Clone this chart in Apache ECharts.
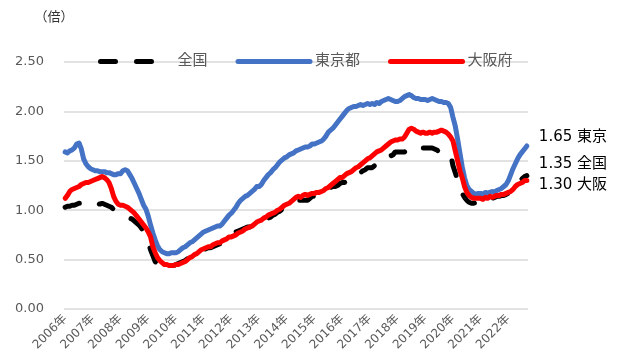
<!DOCTYPE html>
<html>
<head>
<meta charset="utf-8">
<script src="https://cdn.jsdelivr.net/npm/echarts@6/dist/echarts.min.js"></script>
<style>html,body{margin:0;padding:0;background:#fff}#c{width:624px;height:364px}</style>
</head>
<body>
<div id="c"></div>
<script>
const years = [2006,2007,2008,2009,2010,2011,2012,2013,2014,2015,2016,2017,2018,2019,2020,2021,2022];
const lastYearMonths = 9;
const seriesNames = ['全国', '東京都', '大阪府'];
const endNames = ['全国', '東京', '大阪'];
const yTicks = [0, 0.5, 1.0, 1.5, 2.0, 2.5];

const national = [
1.03,1.04,1.04,1.05,1.05,1.06,1.07,1.07,1.08,1.07,1.06,1.06,
1.07,1.07,1.07,1.06,1.07,1.06,1.05,1.04,1.03,1.01,0.99,0.97,
0.96,0.95,0.94,0.93,0.92,0.91,0.89,0.87,0.85,0.82,0.78,0.74,
0.67,0.60,0.54,0.48,0.45,0.43,0.42,0.42,0.43,0.43,0.44,0.44,
0.45,0.46,0.47,0.48,0.49,0.51,0.52,0.53,0.55,0.56,0.57,0.58,
0.60,0.61,0.62,0.62,0.63,0.64,0.65,0.66,0.68,0.69,0.70,0.71,
0.74,0.76,0.78,0.79,0.80,0.81,0.82,0.83,0.83,0.84,0.85,0.86,
0.87,0.88,0.89,0.91,0.92,0.93,0.95,0.96,0.98,0.99,1.01,1.03,
1.05,1.06,1.07,1.08,1.09,1.10,1.10,1.10,1.10,1.10,1.12,1.14,
1.14,1.15,1.15,1.17,1.19,1.19,1.21,1.23,1.24,1.24,1.25,1.27,
1.28,1.28,1.30,1.34,1.36,1.37,1.37,1.37,1.38,1.40,1.41,1.43,
1.43,1.43,1.45,1.48,1.49,1.51,1.52,1.52,1.52,1.55,1.56,1.59,
1.59,1.59,1.59,1.59,1.60,1.62,1.63,1.63,1.64,1.62,1.63,1.63,
1.63,1.63,1.63,1.63,1.62,1.61,1.59,1.59,1.58,1.57,1.57,1.57,
1.45,1.38,1.30,1.22,1.17,1.13,1.10,1.08,1.07,1.07,1.08,1.08,
1.08,1.07,1.09,1.09,1.10,1.12,1.13,1.14,1.14,1.15,1.15,1.16,
1.17,1.19,1.22,1.25,1.28,1.30,1.32,1.34,1.35
];
const tokyo = [
1.59,1.58,1.60,1.61,1.63,1.67,1.68,1.62,1.52,1.47,1.44,1.42,
1.41,1.40,1.40,1.39,1.39,1.39,1.38,1.38,1.37,1.36,1.36,1.37,
1.37,1.40,1.41,1.40,1.36,1.32,1.27,1.22,1.17,1.11,1.05,1.01,
0.94,0.85,0.77,0.70,0.64,0.60,0.58,0.57,0.56,0.56,0.57,0.57,
0.57,0.58,0.60,0.62,0.63,0.65,0.67,0.68,0.70,0.72,0.74,0.76,
0.78,0.79,0.80,0.81,0.82,0.83,0.84,0.84,0.86,0.89,0.92,0.95,
0.97,1.00,1.03,1.07,1.10,1.12,1.14,1.15,1.17,1.19,1.21,1.24,
1.24,1.26,1.30,1.33,1.36,1.38,1.41,1.43,1.46,1.49,1.51,1.53,
1.54,1.56,1.57,1.58,1.60,1.61,1.62,1.63,1.64,1.64,1.65,1.67,
1.67,1.68,1.69,1.70,1.72,1.75,1.79,1.81,1.83,1.86,1.89,1.92,
1.95,1.98,2.01,2.03,2.04,2.05,2.05,2.06,2.07,2.06,2.07,2.08,
2.07,2.08,2.07,2.09,2.08,2.10,2.11,2.12,2.13,2.12,2.11,2.10,
2.10,2.11,2.13,2.15,2.16,2.17,2.16,2.14,2.13,2.13,2.12,2.12,
2.12,2.11,2.12,2.13,2.12,2.11,2.10,2.10,2.09,2.09,2.08,2.04,
1.94,1.85,1.72,1.58,1.44,1.33,1.25,1.21,1.19,1.17,1.16,1.17,
1.17,1.16,1.18,1.17,1.18,1.19,1.18,1.20,1.21,1.22,1.24,1.26,
1.30,1.36,1.42,1.47,1.52,1.56,1.59,1.62,1.65
];
const osaka = [
1.12,1.15,1.19,1.21,1.22,1.23,1.24,1.26,1.27,1.28,1.28,1.29,
1.30,1.31,1.32,1.33,1.34,1.33,1.31,1.28,1.22,1.14,1.09,1.06,
1.05,1.05,1.04,1.03,1.01,0.99,0.97,0.94,0.91,0.88,0.85,0.82,
0.78,0.73,0.63,0.57,0.52,0.49,0.47,0.45,0.45,0.44,0.44,0.44,
0.45,0.45,0.46,0.47,0.48,0.50,0.52,0.53,0.55,0.56,0.58,0.60,
0.61,0.62,0.63,0.63,0.65,0.66,0.67,0.67,0.69,0.70,0.71,0.73,
0.73,0.74,0.75,0.77,0.78,0.79,0.81,0.82,0.83,0.84,0.86,0.88,
0.89,0.90,0.92,0.93,0.95,0.96,0.97,0.98,1.00,1.01,1.03,1.05,
1.06,1.07,1.09,1.11,1.13,1.14,1.13,1.15,1.16,1.15,1.16,1.17,
1.17,1.18,1.18,1.19,1.20,1.22,1.23,1.25,1.27,1.29,1.31,1.33,
1.33,1.35,1.37,1.38,1.39,1.41,1.43,1.44,1.46,1.48,1.50,1.52,
1.53,1.55,1.57,1.59,1.60,1.61,1.63,1.65,1.67,1.69,1.70,1.71,
1.71,1.72,1.72,1.74,1.78,1.82,1.83,1.82,1.80,1.79,1.78,1.79,
1.78,1.78,1.79,1.78,1.79,1.79,1.80,1.81,1.80,1.79,1.77,1.74,
1.70,1.60,1.50,1.40,1.33,1.24,1.18,1.15,1.13,1.12,1.12,1.12,
1.12,1.11,1.13,1.12,1.14,1.13,1.14,1.15,1.15,1.16,1.16,1.17,
1.18,1.19,1.21,1.24,1.26,1.27,1.28,1.30,1.30
];

const categories = [];
years.forEach((y, k) => {
  const n = (k === years.length - 1) ? lastYearMonths : 12;
  for (let m = 1; m <= n; m++) categories.push(y + '/' + m);
});

const FONT = "'DejaVu Sans', 'Noto Sans CJK JP', sans-serif";
const chart = echarts.init(document.getElementById('c'), null, {renderer: 'canvas'});

function endLabel(idx, dy) {
  return {
    show: true,
    distance: 12,
    offset: [0, dy],
    color: '#000',
    fontSize: 15,
    fontFamily: FONT,
    formatter: p => Number(p.value).toFixed(2) + ' ' + endNames[idx]
  };
}

chart.setOption({
  animation: false,
  backgroundColor: '#fff',
  grid: {left: 64, right: 96, top: 62, bottom: 55},
  legend: {
    left: 93, top: 49,
    itemWidth: 72, itemHeight: 14, itemGap: 28,
    itemStyle: {opacity: 0},
    lineStyle: {width: 5},
    textStyle: {color: '#595959', fontSize: 15, fontFamily: FONT},
    data: seriesNames
  },
  xAxis: {
    type: 'category',
    data: categories,
    boundaryGap: true,
    axisLine: {show: false},
    axisTick: {show: false},
    axisLabel: {
      interval: (i) => i % 12 === 0,
      rotate: 45,
      margin: 8,
      color: '#595959',
      fontSize: 12,
      fontFamily: FONT,
      formatter: (v) => v.split('/')[0] + '年'
    }
  },
  yAxis: {
    type: 'value',
    min: yTicks[0], max: yTicks[yTicks.length - 1], interval: 0.5,
    name: '（倍）',
    nameLocation: 'end',
    nameGap: 38,
    nameTextStyle: {color: '#333', fontSize: 13, fontFamily: FONT, align: 'center', padding: [0, 20, 0, 0]},
    axisLine: {show: false},
    axisTick: {show: false},
    splitLine: {lineStyle: {color: '#d9d9d9', width: 1.5}},
    axisLabel: {color: '#595959', fontSize: 13, fontFamily: FONT, margin: 20, formatter: v => v.toFixed(2)}
  },
  series: [
    {
      name: seriesNames[0], type: 'line', data: national, symbol: 'none', showSymbol: false,
      lineStyle: {color: '#000', width: 5, type: [15, 21], cap: 'round'},
      itemStyle: {color: '#000'},
      endLabel: endLabel(0, -12)
    },
    {
      name: seriesNames[1], type: 'line', data: tokyo, symbol: 'none', showSymbol: false,
      lineStyle: {color: '#4472c4', width: 5, cap: 'round', join: 'round'},
      itemStyle: {color: '#4472c4'},
      endLabel: endLabel(1, -9)
    },
    {
      name: seriesNames[2], type: 'line', data: osaka, symbol: 'none', showSymbol: false,
      lineStyle: {color: '#ff0000', width: 5, cap: 'round', join: 'round'},
      itemStyle: {color: '#ff0000'},
      endLabel: endLabel(2, 5)
    }
  ]
});
</script>
</body>
</html>
